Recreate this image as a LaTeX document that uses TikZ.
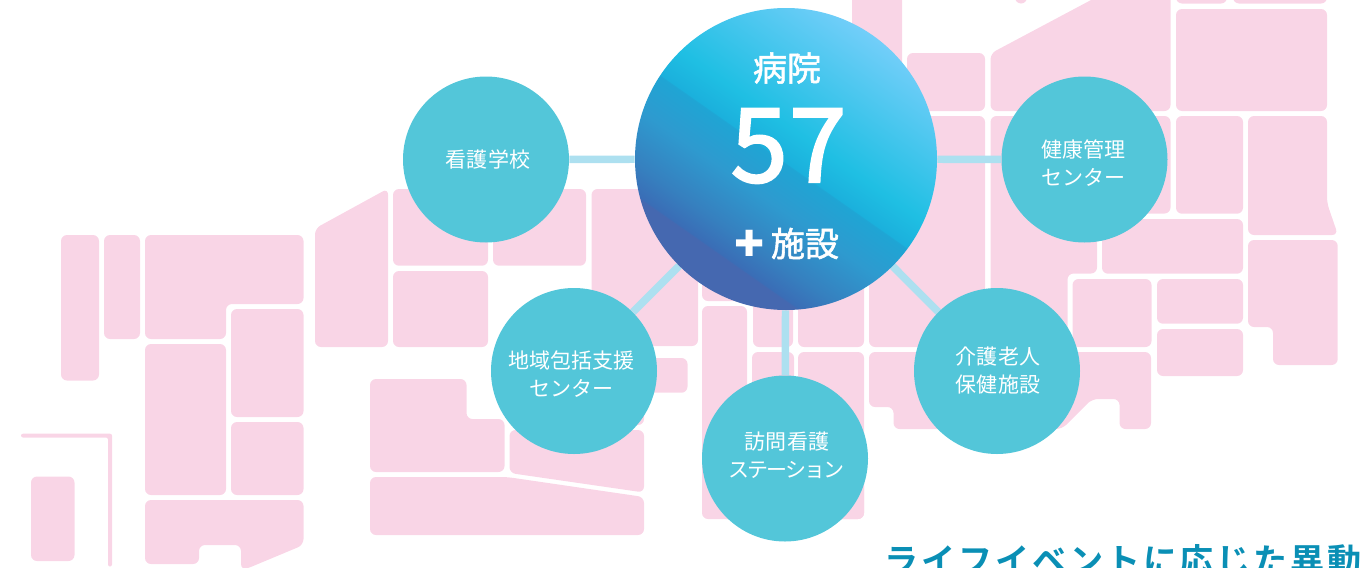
\documentclass[tikz,border=0pt]{standalone}
\usepackage{fontspec}
\setmainfont{Noto Sans CJK JP}
\newfontfamily\jpmed[FakeBold=1.6]{Noto Sans CJK JP}
\newfontfamily\jpbig[FakeBold=2.2,LetterSpace=1.5]{Noto Sans CJK JP}
\newfontfamily\jphead[LetterSpace=8.3]{Noto Sans CJK JP Bold}
\newfontfamily\jpfine[LetterSpace=0.8]{Noto Sans CJK JP}
\newfontfamily\jptight[LetterSpace=-8.7]{Noto Sans CJK JP}
\newfontfamily\dejavu{DejaVu Sans}
\usetikzlibrary{shapes.geometric}
\definecolor{mapPink}{HTML}{F9D5E6}
\definecolor{linkBlue}{HTML}{ADE0F0}
\definecolor{bubble}{HTML}{53C6D9}
\definecolor{headBlue}{HTML}{0A8FB5}
\definecolor{gA}{HTML}{4568B0}
\definecolor{gB}{HTML}{3A6DB6}
\definecolor{gC}{HTML}{3680BF}
\definecolor{gD}{HTML}{2E9ACF}
\definecolor{gE}{HTML}{1FA5D4}
\definecolor{gF}{HTML}{1BB0DC}
\definecolor{gG}{HTML}{1FBFE3}
\definecolor{gH}{HTML}{72CEF9}
\pgfdeclareverticalshading{hubshade}{100bp}{
 color(0bp)=(gA);
 color(25bp)=(gA);
 color(30.7bp)=(gA);
 color(30.9bp)=(gB);
 color(35.1bp)=(gC);
 color(42.7bp)=(gD);
 color(49.3bp)=(gE);
 color(49.5bp)=(gF);
 color(54.6bp)=(gG);
 color(75bp)=(gH);
 color(100bp)=(gH)}
\pgfdeclarelayer{maplayer}
\pgfdeclarelayer{linklayer}
\pgfsetlayers{maplayer,linklayer,main}
\tikzset{
 region/.style={fill=mapPink,rounded corners=4.5pt},
 link/.style={draw=linkBlue,line width=5.6pt},
 hubnode/.style={circle,inner sep=0pt,minimum size=226.5pt,shading=hubshade,shading angle=-35},
 bubblenode/.style={circle,inner sep=0pt,minimum size=124.5pt,fill=bubble},
 bubbletext/.style={text=white,inner sep=0pt,font=\jpfine\fontsize{15.75pt}{21pt}\selectfont},
 hubtext/.style={text=white,inner sep=0pt,font=\jpmed\fontsize{25.5pt}{30pt}\selectfont},
 bigtext/.style={text=white,inner sep=0pt,font=\jpbig\fontsize{77pt}{90pt}\selectfont},
}
\begin{document}
\begin{tikzpicture}[x=0.75pt,y=-0.75pt]
\path[use as bounding box] (0,0) rectangle (1372,568);
\clip (0,0) rectangle (1372,568);
\begin{pgfonlayer}{maplayer}
% west
\fill[region] (61,235) rectangle (99,380.5);
\fill[region] (104,235) rectangle (140,339);
\fill[region] (145,235) -- (303.5,235) -- (303.5,304) -- (226,304) -- (226,339) -- (145,339) -- cycle;
\fill[region] (231,309) rectangle (303.5,417);
\fill[region] (145,344) rectangle (226,495);
\fill[region] (231,422) rectangle (303.5,495);
\fill[region] (145,500) -- (303.5,500) -- (303.5,545) -- (246,569) -- (241,570) -- (241,545) -- (199,545) -- (199,564) -- (145,564) -- cycle;
\fill[region] (31,476.5) rectangle (74.5,561);
\fill[mapPink,rounded corners=1.5pt] (21,433.7) -- (112,433.7) -- (112,566.5) -- (108,566.5) -- (108,437.5) -- (21,437.5) -- cycle;
% chugoku / shikoku
\fill[region] (315,228.5) -- (388,188.5) -- (388,347) -- (315,347) -- cycle;
\fill[region] (393,189) rectangle (488,265.7);
\fill[region] (393,271) rectangle (488,347);
\fill[region] (493,189) rectangle (586,265.7);
\fill[region] (591.5,189) rectangle (698,346);
\fill[region] (640,358) rectangle (687.5,392.7);
\fill[region] (370,379) -- (466.5,379) -- (466.5,419) -- (504.5,419) -- (504.5,472) -- (370,472) -- cycle;
\fill[region] (560,380) rectangle (644,425);
\fill[region] (509.5,430) -- (644,430) -- (644,492.5) -- (509.5,473) -- cycle;
\fill[region] (370,477) -- (507,477) -- (644,497) -- (644,535) -- (370,535) -- cycle;
% centre
\fill[region] (702,200) rectangle (748,301);
\fill[region] (702,306) rectangle (747,519);
\fill[region] (753,200) rectangle (793,347);
\fill[region] (752,352) rectangle (794,500);
\fill[region] (798,200) rectangle (864,347);
\fill[region] (798,352) rectangle (864,519);
\fill[region] (720,480) rectangle (864,519);
% east
\fill[region] (852,-10) rectangle (902,100);
\fill[region] (907,53) rectangle (985,111);
\fill[region] (869,116) rectangle (985,347);
\fill[region] (990.5,53.5) -- (1098.6,-4) -- (1170.5,-10) -- (1170.5,111) -- (990.5,111) -- cycle;
\fill[region] (1015,-10) rectangle (1027,3.5);
\fill[region] (1176,-10) rectangle (1227,3.5);
\fill[region] (1233,-10) rectangle (1327,3.5);
\fill[region] (1176,9) rectangle (1327,111);
\fill[region] (990.5,116) -- (1170.5,116) -- (1170.5,213.5) -- (1097,213.5) -- (1097,273.5) -- (1067.5,273.5) -- (1067.5,347) -- (990.5,347) -- cycle;
\fill[region] (1102,219) rectangle (1243,273.7);
\fill[region] (1072.5,279) rectangle (1151.5,347);
\fill[region] (1157,279) rectangle (1243,323.7);
\fill[region] (1157,329) rectangle (1243,376);
\fill[region] (1176,116) rectangle (1243,213.7);
\fill[region] (1248,116) -- (1327,116) -- (1327,203) -- (1338,235) -- (1248,235) -- cycle;
\fill[region] (1248,240) -- (1337.7,240) -- (1337.7,365) -- (1273,365) -- (1273,327) -- (1248,327) -- cycle;
\fill[region] (869,352) -- (1151,352) -- (1151,429) -- (1119.5,429) -- (1119.5,399) -- (1092,399) -- (1062,429) -- (893.5,429) -- (893.5,407) -- (869,407) -- cycle;
\end{pgfonlayer}
% bubbles
\node[hubnode] (hub) at (786,159) {};
\node[bubblenode] (nurse) at (486,159.5) {};
\node[bubblenode] (health) at (1084.5,159.5) {};
\node[bubblenode] (care) at (574,371) {};
\node[bubblenode] (visit) at (785,458.5) {};
\node[bubblenode] (elder) at (997,371) {};
\begin{pgfonlayer}{linklayer}
\draw[link] (hub) -- (nurse);
\draw[link] (hub) -- (health);
\draw[link] (hub) -- (care);
\draw[link] (hub) -- (visit);
\draw[link] (hub) -- (elder);
\end{pgfonlayer}
% bubble labels
\node[bubbletext] (l1) at (488,159.5) {看護学校};
\node[bubbletext] (l2a) at (1083.5,149.5) {健康管理};
\node[bubbletext] (l2b) at (1083.5,177.5) {センター};
\node[bubbletext] (l3a) at (571.5,360.5) {地域包括支援};
\node[bubbletext] (l3b) at (571.5,388.5) {センター};
\node[bubbletext] (l4a) at (787,441.5) {訪問看護};
\node[bubbletext,font=\jptight\fontsize{15.75pt}{21pt}\selectfont] (l4b) at (786.5,470) {ステーション};
\node[bubbletext] (l5a) at (998,357) {介護老人};
\node[bubbletext] (l5b) at (998,385) {保健施設};
% hub text
\node[hubtext] (tHosp) at (787,68) {病院};
\node[bigtext] (tNum) at (788.5,146) {57};
\node[hubtext] (tFac) at (805,243.5) {施設};
\node[text=white,inner sep=0pt,font=\dejavu\fontsize{27pt}{27pt}\selectfont] (tPlus) at (749.3,243) {✚};
% heading
\node[anchor=base west,inner sep=0pt,text=headBlue,font=\jphead\fontsize{25.6pt}{30pt}\selectfont] (tHead) at (884,573.5) {ライフイベントに応じた異動};
\end{tikzpicture}
\end{document}
